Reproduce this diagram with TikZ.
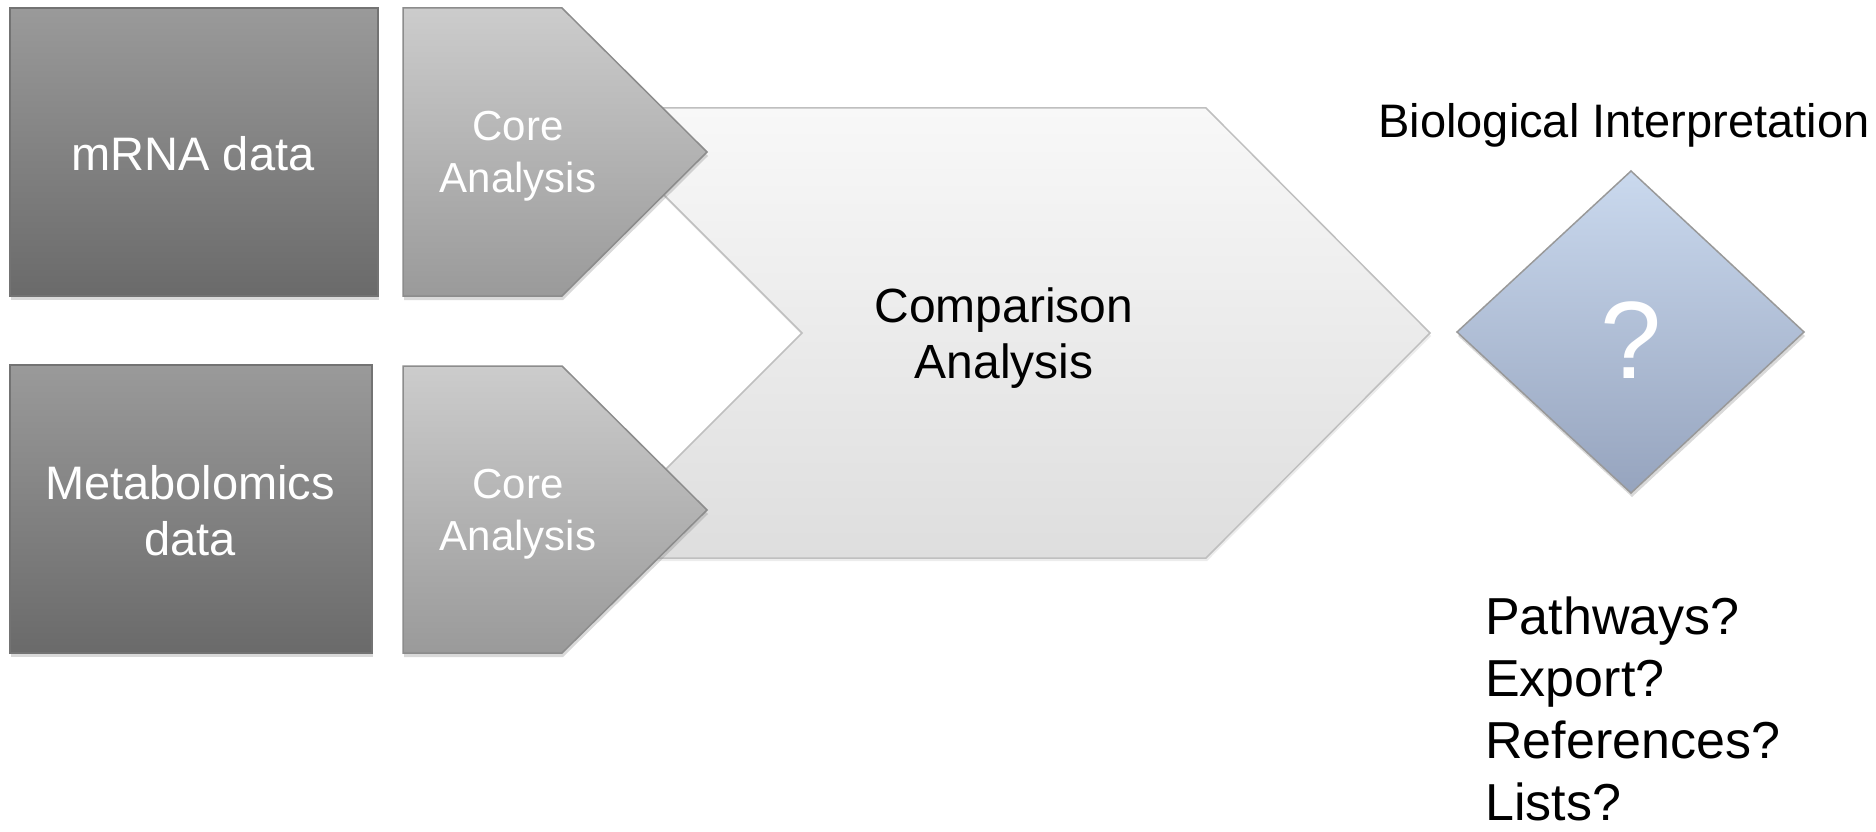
\documentclass[tikz,border=0pt]{standalone}
\usepackage{fontspec}
\setmainfont{Liberation Sans}
\usetikzlibrary{shadows}

\definecolor{dataTop}{HTML}{9A9A9A}
\definecolor{dataBot}{HTML}{6A6A6A}
\definecolor{coreTop}{HTML}{CCCCCC}
\definecolor{coreBot}{HTML}{9A9A9A}
\definecolor{compTop}{HTML}{F8F8F8}
\definecolor{compBot}{HTML}{DEDEDE}
\definecolor{diaTop}{HTML}{CAD9EE}
\definecolor{diaBot}{HTML}{96A4BE}

\tikzset{
	databox/.style={draw=black!55,line width=1.5pt,top color=dataTop,bottom color=dataBot,
		drop shadow={shadow xshift=1pt,shadow yshift=-4pt,opacity=.3}},
	corebox/.style={draw=black!45,line width=1.5pt,top color=coreTop,bottom color=coreBot,
		drop shadow={shadow xshift=1pt,shadow yshift=-4pt,opacity=.3}},
	compbox/.style={draw=black!25,line width=1.5pt,top color=compTop,bottom color=compBot,
		drop shadow={shadow xshift=1pt,shadow yshift=-3pt,opacity=.15}},
	diabox/.style={draw=black!40,line width=1.5pt,top color=diaTop,bottom color=diaBot,
		drop shadow={shadow xshift=1pt,shadow yshift=-4pt,opacity=.3}},
	lbl/.style={inner sep=0pt,align=center},
}

\begin{document}
\begin{tikzpicture}[x=1pt,y=-1pt]
	\useasboundingbox (0,0) rectangle (1876,832);
	% comparison chevron, behind the two cores
	\draw[compbox] (577,108)--(1206,108)--(1430,333)--(1206,558)--(577,558)--(802,333)--cycle;
	\node[lbl,font=\fontsize{48}{56}\selectfont] (comp) at (1004,338){Comparison\\Analysis};
	% data boxes
	\draw[databox] (10,8) rectangle (378,296);
	\node[lbl,anchor=base,text=white,font=\fontsize{47}{56}\selectfont] (mrna) at (193,170){mRNA data};
	\draw[databox] (10,365) rectangle (372,653);
	\node[lbl,text=white,font=\fontsize{47}{56}\selectfont] (metab) at (190,511){Metabolomics\\data};
	% core analyses
	\draw[corebox] (403,8)--(562,8)--(707,152)--(562,296)--(403,296)--cycle;
	\node[lbl,text=white,font=\fontsize{42}{52}\selectfont] (core1) at (518,156){Core\\Analysis};
	\draw[corebox] (403,366)--(562,366)--(707,510)--(562,653)--(403,653)--cycle;
	\node[lbl,text=white,font=\fontsize{42}{52}\selectfont] (core2) at (518,514){Core\\Analysis};
	% interpretation
	\node[lbl,anchor=base,font=\fontsize{47}{56}\selectfont] (bio) at (1624,138){Biological Interpretation};
	\draw[diabox] (1631,171)--(1804,332)--(1631,493)--(1457,332)--cycle;
	\node[lbl,anchor=base,text=white,font=\fontsize{110}{120}\selectfont] (qmark) at (1631,378){?};
	\node[lbl,anchor=base west,font=\fontsize{52}{63}\selectfont] (q1) at (1485,634){Pathways?};
	\node[lbl,anchor=base west,font=\fontsize{52}{63}\selectfont] (q2) at (1485,696){Export?};
	\node[lbl,anchor=base west,font=\fontsize{52}{63}\selectfont] (q3) at (1485,758){References?};
	\node[lbl,anchor=base west,font=\fontsize{52}{63}\selectfont] (q4) at (1485,820){Lists?};
\end{tikzpicture}
\end{document}
